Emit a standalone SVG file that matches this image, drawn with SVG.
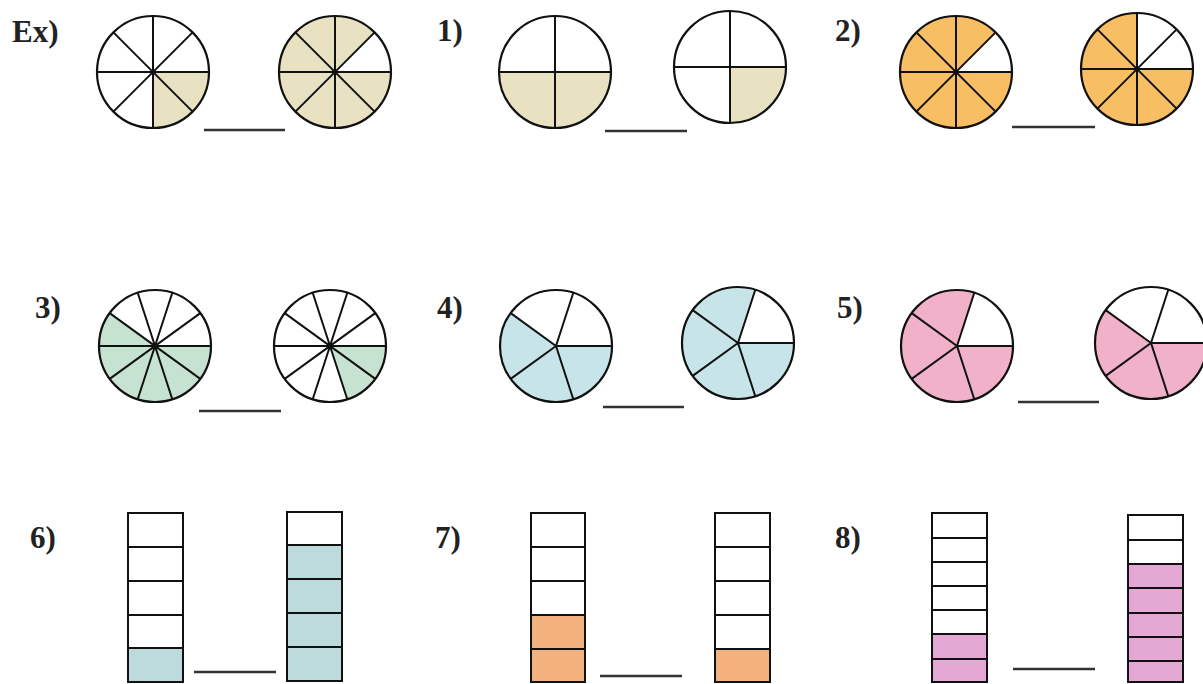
<svg xmlns="http://www.w3.org/2000/svg" width="1203" height="684" viewBox="0 0 1203 684">
<style>
.lbl{font-family:"Liberation Serif","DejaVu Serif","Times New Roman",serif;font-weight:bold;font-size:31px;fill:#222}
.ring{fill:none;stroke:#111;stroke-width:2.2}
.bg{fill:#fff}
.div{stroke:#111;stroke-width:2;fill:none}
.dot{fill:#111}
.ans{stroke:#333;stroke-width:2.5}
.khaki{fill:#e8e1c2}
.orange{fill:#f8be63}
.green{fill:#c6e3d1}
.cyan{fill:#c7e5e8}
.pink{fill:#f1b1c9}
.blue{fill:#bddadd}
.peach{fill:#f2b17d}
.violet{fill:#e4a8d4}
.cell{fill:#fff;stroke:#111;stroke-width:2}
.frame{fill:none;stroke:#111;stroke-width:2}
</style>
<rect width="1203" height="684" fill="#fff"/>

<g id="ex">
<text class="lbl" x="12" y="42" font-family="Liberation Serif, serif">Ex)</text>
<circle class="bg" cx="153" cy="72" r="56"/>
<path class="khaki" d="M153,72 L209,72 A56,56 0 0 1 153,128 Z"/>
<path class="div" d="M97,72H209M153,16V128M113.4,32.4L192.6,111.6M192.6,32.4L113.4,111.6"/>
<circle class="dot" cx="153" cy="72" r="2.5"/>
<circle class="ring" cx="153" cy="72" r="56"/>
<circle class="bg" cx="335" cy="72" r="56"/>
<path class="khaki" d="M335,72 L391,72 A56,56 0 1 1 374.6,32.4 Z"/>
<path class="div" d="M279,72H391M335,16V128M295.4,32.4L374.6,111.6M374.6,32.4L295.4,111.6"/>
<circle class="dot" cx="335" cy="72" r="2.5"/>
<circle class="ring" cx="335" cy="72" r="56"/>
<line class="ans" x1="204" y1="130" x2="285" y2="130"/>
</g>

<g id="q1">
<text class="lbl" x="437" y="41" font-family="Liberation Serif, serif">1)</text>
<circle class="bg" cx="555" cy="72" r="56"/>
<path class="khaki" d="M499,72 A56,56 0 0 0 611,72 Z"/>
<path class="div" d="M499,72H611M555,16V128"/>
<circle class="ring" cx="555" cy="72" r="56"/>
<circle class="bg" cx="730" cy="67" r="56"/>
<path class="khaki" d="M730,67 L786,67 A56,56 0 0 1 730,123 Z"/>
<path class="div" d="M674,67H786M730,11V123"/>
<circle class="ring" cx="730" cy="67" r="56"/>
<line class="ans" x1="605" y1="131" x2="687" y2="131"/>
</g>

<g id="q2">
<text class="lbl" x="835" y="41" font-family="Liberation Serif, serif">2)</text>
<circle class="bg" cx="956" cy="72" r="56"/>
<path class="orange" d="M956,72 L1012,72 A56,56 0 1 1 995.6,32.4 Z"/>
<path class="div" d="M900,72H1012M956,16V128M916.4,32.4L995.6,111.6M995.6,32.4L916.4,111.6"/>
<circle class="dot" cx="956" cy="72" r="2.5"/>
<circle class="ring" cx="956" cy="72" r="56"/>
<circle class="bg" cx="1137" cy="69" r="56"/>
<path class="orange" d="M1137,69 L1193,69 A56,56 0 1 1 1137,13 Z"/>
<path class="div" d="M1081,69H1193M1137,13V125M1097.4,29.4L1176.6,108.6M1176.6,29.4L1097.4,108.6"/>
<circle class="dot" cx="1137" cy="69" r="2.5"/>
<circle class="ring" cx="1137" cy="69" r="56"/>
<line class="ans" x1="1012" y1="127" x2="1095" y2="127"/>
</g>

<g id="q3">
<text class="lbl" x="35" y="318" font-family="Liberation Serif, serif">3)</text>
<circle class="bg" cx="155" cy="346" r="56"/>
<path class="green" d="M155,346 L211,346 A56,56 0 1 1 109.7,313.1 Z"/>
<path class="div" d="M99,346H211M200.3,378.9L109.7,313.1M172.3,399.3L137.7,292.7M137.7,399.3L172.3,292.7M109.7,378.9L200.3,313.1"/>
<circle class="dot" cx="155" cy="346" r="2.8"/>
<circle class="ring" cx="155" cy="346" r="56"/>
<circle class="bg" cx="330" cy="346" r="56"/>
<path class="green" d="M330,346 L386,346 A56,56 0 0 1 347.3,399.3 Z"/>
<path class="div" d="M274,346H386M375.3,378.9L284.7,313.1M347.3,399.3L312.7,292.7M312.7,399.3L347.3,292.7M284.7,378.9L375.3,313.1"/>
<circle class="dot" cx="330" cy="346" r="2.8"/>
<circle class="ring" cx="330" cy="346" r="56"/>
<line class="ans" x1="199" y1="411" x2="281" y2="411"/>
</g>

<g id="q4">
<text class="lbl" x="437" y="318" font-family="Liberation Serif, serif">4)</text>
<circle class="bg" cx="556" cy="346" r="56"/>
<path class="cyan" d="M556,346 L612,346 A56,56 0 1 1 510.7,313.1 Z"/>
<path class="div" d="M556,346L612,346M556,346L573.3,399.3M556,346L510.7,378.9M556,346L510.7,313.1M556,346L573.3,292.7"/>
<circle class="ring" cx="556" cy="346" r="56"/>
<circle class="bg" cx="738" cy="343" r="56"/>
<path class="cyan" d="M738,343 L794,343 A56,56 0 1 1 755.3,289.7 Z"/>
<path class="div" d="M738,343L794,343M738,343L755.3,396.3M738,343L692.7,375.9M738,343L692.7,310.1M738,343L755.3,289.7"/>
<circle class="ring" cx="738" cy="343" r="56"/>
<line class="ans" x1="603" y1="407" x2="684" y2="407"/>
</g>

<g id="q5">
<text class="lbl" x="837" y="318" font-family="Liberation Serif, serif">5)</text>
<circle class="bg" cx="957" cy="346" r="56"/>
<path class="pink" d="M957,346 L1013,346 A56,56 0 1 1 974.3,292.7 Z"/>
<path class="div" d="M957,346L1013,346M957,346L974.3,399.3M957,346L911.7,378.9M957,346L911.7,313.1M957,346L974.3,292.7"/>
<circle class="ring" cx="957" cy="346" r="56"/>
<circle class="bg" cx="1151" cy="343" r="56"/>
<path class="pink" d="M1151,343 L1207,343 A56,56 0 1 1 1105.7,310.1 Z"/>
<path class="div" d="M1151,343L1207,343M1151,343L1168.3,396.3M1151,343L1105.7,375.9M1151,343L1105.7,310.1M1151,343L1168.3,289.7"/>
<circle class="ring" cx="1151" cy="343" r="56"/>
<line class="ans" x1="1018" y1="402" x2="1099" y2="402"/>
</g>

<g id="q6">
<text class="lbl" x="30" y="548" font-family="Liberation Serif, serif">6)</text>
<rect class="cell" x="128" y="513" width="55" height="169"/>
<rect class="blue" x="129" y="648" width="53" height="33"/>
<path class="div" d="M128,547H183M128,581H183M128,615H183M128,648H183"/>
<rect class="frame" x="128" y="513" width="55" height="169"/>
<rect class="cell" x="287" y="512" width="55" height="169"/>
<rect class="blue" x="288" y="545" width="53" height="135"/>
<path class="div" d="M287,545H342M287,579H342M287,613H342M287,647H342"/>
<rect class="frame" x="287" y="512" width="55" height="169"/>
<line class="ans" x1="194" y1="672" x2="276" y2="672"/>
</g>

<g id="q7">
<text class="lbl" x="435" y="548" font-family="Liberation Serif, serif">7)</text>
<rect class="cell" x="531" y="513" width="54" height="169"/>
<rect class="peach" x="532" y="615" width="52" height="66"/>
<path class="div" d="M531,547H585M531,581H585M531,615H585M531,649H585"/>
<rect class="frame" x="531" y="513" width="54" height="169"/>
<rect class="cell" x="715" y="513" width="55" height="169"/>
<rect class="peach" x="716" y="649" width="53" height="32"/>
<path class="div" d="M715,547H770M715,581H770M715,615H770M715,649H770"/>
<rect class="frame" x="715" y="513" width="55" height="169"/>
<line class="ans" x1="600" y1="676" x2="682" y2="676"/>
</g>

<g id="q8">
<text class="lbl" x="835" y="548" font-family="Liberation Serif, serif">8)</text>
<rect class="cell" x="932" y="513" width="55" height="169"/>
<rect class="violet" x="933" y="634" width="53" height="47"/>
<path class="div" d="M932,538H987M932,562H987M932,586H987M932,610H987M932,634H987M932,659H987"/>
<rect class="frame" x="932" y="513" width="55" height="169"/>
<rect class="cell" x="1128" y="515" width="55" height="167"/>
<rect class="violet" x="1129" y="564" width="53" height="117"/>
<path class="div" d="M1128,540H1183M1128,564H1183M1128,588H1183M1128,613H1183M1128,637H1183M1128,661H1183"/>
<rect class="frame" x="1128" y="515" width="55" height="167"/>
<line class="ans" x1="1013" y1="669" x2="1095" y2="669"/>
</g>
</svg>
